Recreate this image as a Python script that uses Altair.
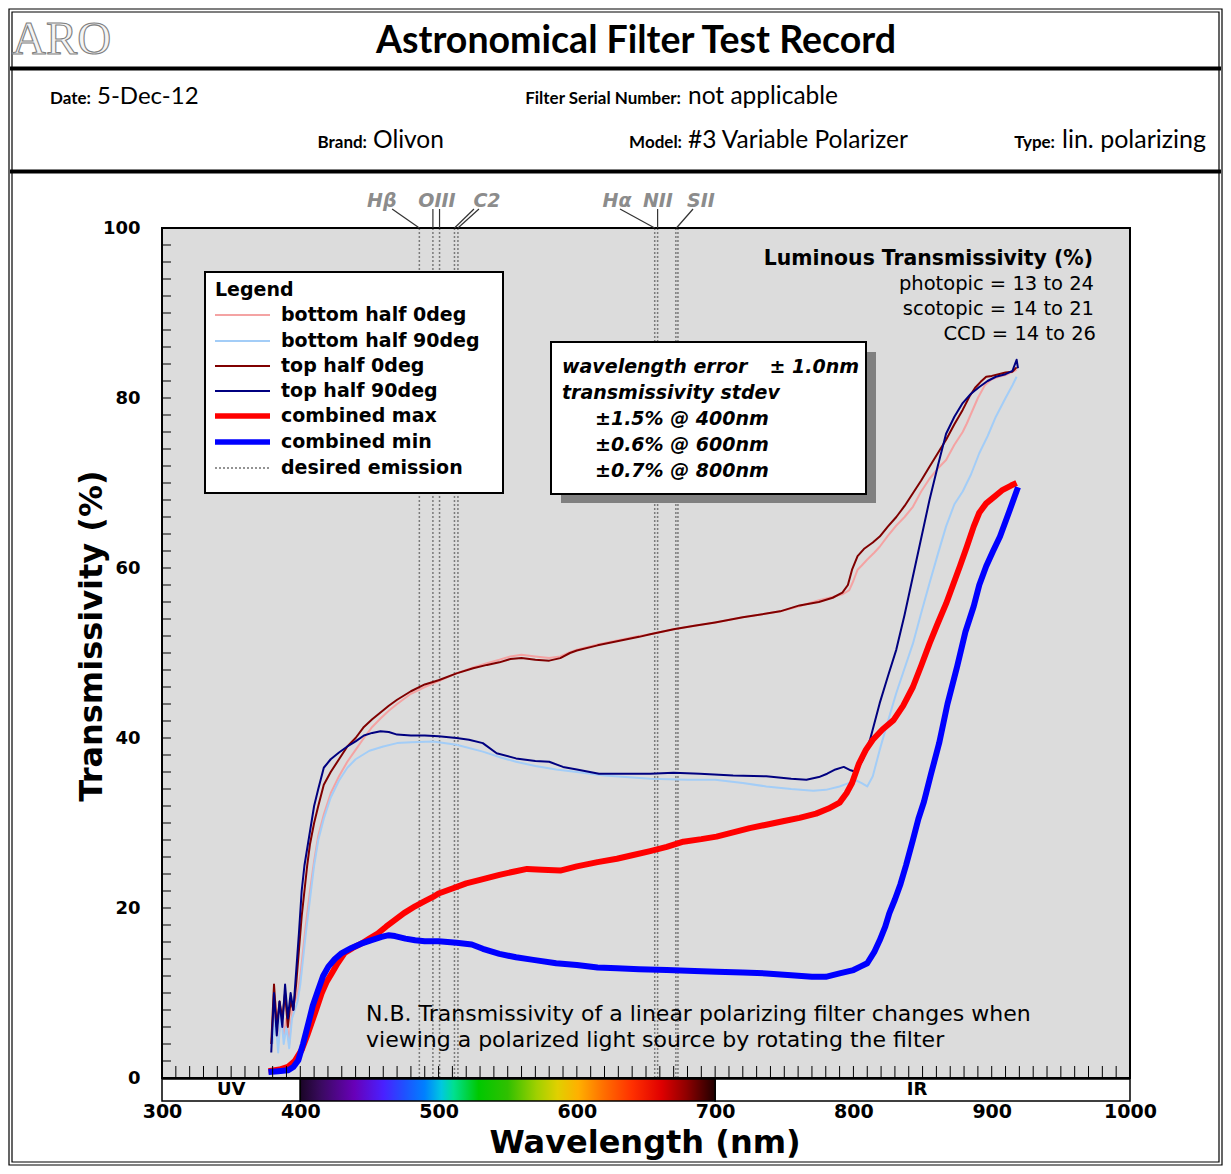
import altair as alt
import pandas as pd

# ---------------- data ----------------
bh0_nm = [380, 382, 384, 386, 388, 390, 392, 394, 396, 398, 400, 402, 404, 407, 410, 413, 417, 422, 428, 434,
          440, 446, 452, 458, 464, 470, 480, 490, 500, 513, 525, 535, 544, 552, 560, 570, 580, 588, 595, 600,
          615, 630, 645, 653, 670, 685, 700, 720, 747, 761, 775, 785, 792, 797, 800, 803, 806, 810, 815, 819,
          825, 831, 837, 843, 849, 855, 861, 867, 873, 879, 882, 886, 890, 895, 900, 905, 910, 918]
bh0_t = [5, 9, 4, 8, 5, 7, 4, 8, 9, 10, 12, 15, 18, 22, 25.5, 28.5, 31, 33.5, 35.5, 37.2,
         38.6, 40, 41.3, 42.3, 43.2, 44, 45.2, 46, 46.7, 47.6, 48.3, 48.8, 49.2, 49.6, 49.8, 49.6, 49.4, 49.6, 50.1, 50.4,
         51, 51.5, 52, 52.2, 52.8, 53.2, 53.6, 54.2, 54.9, 55.5, 56.2, 56.6, 56.9, 57.4, 58.5, 59.8, 60.3, 61, 61.8, 62.5,
         63.8, 65, 66, 67.2, 69, 70.5, 71.7, 72.7, 74.5, 76, 77, 78.5, 80, 81.5, 82.2, 82.5, 82.7, 83.3]

bh90_nm = [380, 382, 384, 386, 388, 390, 392, 394, 396, 398, 400, 402, 404, 407, 410, 413, 417, 422, 428, 434,
           440, 450, 460, 470, 480, 496, 513, 532, 545, 556, 570, 585, 600, 620, 653, 680, 700, 720, 737, 755,
           771, 780, 790, 795, 802, 806, 810, 814, 819, 825, 831, 837, 843, 849, 855, 861, 867, 873, 879, 882,
           885, 891, 897, 903, 910, 915, 918]
bh90_t = [4, 7, 3, 8, 4, 6, 3.5, 7, 8, 9, 11, 14, 17, 21, 25, 28, 30.5, 33, 35, 36.5,
          37.5, 38.5, 39, 39.4, 39.5, 39.6, 39.2, 38.4, 37.7, 37.2, 36.7, 36.3, 36.0, 35.6, 35.2, 35.1, 35.1, 34.7, 34.3, 34.0,
          33.8, 33.9, 34.3, 34.6, 35, 34.7, 34.3, 35.5, 38.6, 42, 45.3, 48.2, 51.1, 54.7, 58.2, 61.6, 64.9, 67.5, 69, 70,
          71, 73.5, 75.5, 77.8, 80, 81.5, 82.5]

th0_nm = [379, 381, 383, 385, 387, 389, 391, 393, 395, 397, 399, 401, 403, 405, 407, 410, 413, 417, 422, 428,
          434, 440, 446, 452, 458, 464, 470, 480, 490, 500, 513, 525, 535, 544, 552, 560, 570, 580, 588, 595,
          600, 615, 630, 645, 653, 670, 685, 700, 720, 747, 761, 775, 785, 792, 796, 799, 803, 808, 814, 819,
          825, 831, 837, 843, 849, 855, 861, 867, 873, 879, 884, 888, 892, 896, 900, 905, 910, 915, 918]
th0_t = [4, 11, 6, 9, 7, 10, 6, 9, 8, 11, 15, 19, 22, 25, 27.5, 30, 32, 34.5, 36, 37.5,
         39, 40, 41.3, 42.2, 43, 43.8, 44.5, 45.5, 46.3, 46.8, 47.6, 48.2, 48.6, 48.9, 49.3, 49.4, 49.2, 49.1, 49.4, 50,
         50.3, 50.9, 51.4, 51.9, 52.2, 52.8, 53.2, 53.6, 54.2, 54.9, 55.6, 56.0, 56.5, 57.1, 58, 59.8, 61.4, 62.3, 63, 63.7,
         64.9, 66, 67.3, 68.8, 70.3, 71.9, 73.5, 75.1, 76.9, 78.6, 80.2, 81.2, 81.9, 82.5, 82.6, 82.8, 83, 83.1, 83.6]

th90_nm = [379, 381, 383, 385, 387, 389, 391, 393, 395, 397, 399, 401, 403, 405, 407, 410, 413, 417, 422, 428,
           434, 440, 446, 452, 458, 464, 470, 480, 490, 500, 513, 522, 532, 542, 556, 570, 580, 590, 600, 616,
           635, 653, 670, 689, 713, 737, 755, 766, 775, 781, 787, 793, 798, 802, 807, 812, 819, 825, 831, 837,
           843, 849, 855, 861, 867, 873, 879, 885, 891, 897, 903, 910, 915, 918, 919]
th90_t = [3, 10, 5, 9, 6, 11, 7, 10, 8, 12.5, 17, 22, 25, 27, 29, 32, 34, 36.5, 37.5, 38.3,
          39, 39.6, 40.3, 40.6, 40.8, 40.7, 40.4, 40.3, 40.3, 40.2, 40.0, 39.8, 39.4, 38.2, 37.6, 37.3, 37.2, 36.6, 36.3, 35.8,
          35.8, 35.8, 35.9, 35.8, 35.6, 35.5, 35.2, 35.1, 35.4, 35.8, 36.3, 36.6, 36.2, 36.0, 37.5, 39.8, 44.1, 47.3, 50.4, 54.5,
          59, 63.5, 68, 72, 75.8, 77.8, 79.4, 80.5, 81.3, 82, 82.5, 82.8, 83.2, 84.5, 83.5]

cmax_nm = [377, 385, 391, 396, 401, 405, 408, 412, 415.5, 419, 422.7, 427, 432, 438, 444, 450, 456, 462, 468.5, 475,
           483, 490, 496, 500, 510, 520, 530, 544, 555, 564, 575, 588, 600, 615, 629, 640, 653, 665, 677, 690,
           701, 713, 725, 737, 749, 761, 773, 782, 790, 795, 799, 804, 809, 814, 821, 829, 836, 843, 849, 855,
           861, 867, 872, 877, 882, 887, 891, 896, 902, 908, 914, 918]
cmax_t = [0.8, 1.0, 1.3, 2.0, 3.3, 5, 6.4, 8.3, 10, 11.3, 12.3, 13.5, 14.7, 15.3, 15.8, 16.4, 17, 17.8, 18.6, 19.4,
          20.2, 20.8, 21.3, 21.7, 22.3, 22.9, 23.3, 23.9, 24.3, 24.6, 24.5, 24.4, 24.9, 25.4, 25.8, 26.2, 26.7, 27.2, 27.8, 28.1,
          28.4, 28.9, 29.4, 29.8, 30.2, 30.6, 31.1, 31.7, 32.4, 33.5, 34.7, 37, 38.6, 39.8, 41, 42.1, 43.8, 46, 48.5, 51.1,
          53.5, 55.8, 58, 60.2, 62.5, 64.9, 66.5, 67.6, 68.4, 69.2, 69.7, 70]

cmin_nm = [377, 384, 391, 395, 398.6, 402, 405.8, 409, 413, 416.5, 420.3, 425, 430, 437, 444, 451, 458.8, 464, 468.5, 476,
           483, 490, 500, 513, 524, 532, 544, 556, 568.5, 585, 600, 615, 629, 645, 665, 685, 701, 720, 737, 755,
           770, 780, 790, 800, 805, 810, 815, 819, 823, 826, 830, 834, 838, 843, 847, 851, 856, 862, 868, 875,
           881, 887, 891, 896, 901, 906, 913, 919]
cmin_t = [0.7, 0.8, 0.9, 1.3, 2.1, 4, 6.4, 8.5, 10.4, 12, 13.1, 14, 14.7, 15.3, 15.8, 16.2, 16.6, 16.8, 16.7, 16.4,
          16.2, 16.1, 16.1, 15.9, 15.7, 15.2, 14.6, 14.2, 13.9, 13.5, 13.3, 13.0, 12.9, 12.8, 12.7, 12.6, 12.5, 12.4, 12.3, 12.1,
          11.9, 11.9, 12.3, 12.7, 13.1, 13.5, 14.8, 16.2, 17.8, 19.4, 21, 22.8, 25, 28, 30.5, 32.5, 35.7, 39.4, 44, 48.4,
          52.5, 55.5, 58, 60.2, 62, 63.7, 66.8, 69.5]

series_names = ["bottom half 0deg", "bottom half 90deg", "top half 0deg", "top half 90deg",
                "combined max", "combined min", "desired emission"]
series_colors = ["#f4a3a3", "#a3cdf7", "#800000", "#000080", "#ff0000", "#0000ff", "#707070"]

emission_nm = [486.1, 495.9, 500.7, 511.5, 514.0, 656.3, 658.4, 671.6, 673.1]
em_labels = ["Hβ", "OIII", "C2", "Hα", "NII", "SII"]
em_label_nm = [459, 498.8, 535, 629, 658.6, 689.7]
leader_top_nm = [466.4, 495.9, 500.7, 525.6, 529.2, 631.2, 658.4, 684.0]
leader_bot_nm = [486.1, 495.9, 500.7, 511.5, 514.0, 656.3, 658.4, 672.0]

x_labels = [300, 400, 500, 600, 700, 800, 900, 1000]
y_grid = [0, 10, 20, 30, 40, 50, 60, 70, 80, 90, 100]
x_minor = list(range(300, 1001, 10))
y_minor = list(range(0, 101, 2))

bar_parts = ["UV", "", "IR"]
bar_start = [300, 400, 700]
bar_end = [400, 700, 1000]
bar_label_nm = [350, 846]

spectrum_offsets = [0.0, 0.05, 0.13, 0.2, 0.25, 0.3, 0.34, 0.37, 0.43, 0.5, 0.57, 0.62, 0.67, 0.73, 0.8, 0.87, 0.93, 1.0]
spectrum_colors = ["#1a0526", "#3a0a60", "#6800b8", "#4a20ff", "#2050ff", "#0080ff", "#00c8e0", "#00e090",
                   "#00c800", "#30c000", "#a0d000", "#e0d000", "#ffb000", "#ff7000", "#ff3000", "#e00000",
                   "#900000", "#200000"]

# ---------------- layout ----------------
W, H = 968, 850
FONT = "DejaVu Sans"
HFONT = "Lato"

x_scale = alt.Scale(domain=[300, 1000], nice=False, zero=False)
y_scale = alt.Scale(domain=[0, 100], nice=False, zero=False)

X_AX = alt.Axis(values=x_labels, format="d", grid=True, gridDash=[2, 2], gridColor="#333333", gridWidth=1,
                gridOpacity=1, ticks=False, domain=False, labelFont=FONT, labelFontWeight="bold", labelFontSize=19,
                labelColor="black", labelPadding=24, labelFlush=False, labelOverlap=False, title=None)
Y_AX = alt.Axis(values=y_grid, grid=True, gridDash=[2, 2], gridColor="#333333", gridWidth=1, gridOpacity=1,
                ticks=False, domain=False, labelFont=FONT, labelFontWeight="bold", labelFontSize=18,
                labelColor="black", labelPadding=22, labelExpr="datum.value % 20 === 0 ? datum.label : ''",
                title=None)


def X(f):
    return alt.X(f, type="quantitative", scale=x_scale, axis=X_AX)


def Y(f):
    return alt.Y(f, type="quantitative", scale=y_scale, axis=Y_AX)


ONE = pd.DataFrame({"k": [0]})


def txt(s, x, y, size, weight="normal", style="normal", align="left", baseline="middle",
        color="black", font=FONT, angle=None, **extra):
    mk = dict(text=s, font=font, fontSize=size, fontWeight=weight, fontStyle=style, align=align,
              baseline=baseline, **extra)
    if "fill" not in extra:
        mk["color"] = color
    if angle is not None:
        mk["angle"] = angle
    return alt.Chart(ONE).mark_text(**mk).encode(x=alt.value(x), y=alt.value(y))


def prect(x1, y1, x2, y2, **mk):
    return alt.Chart(ONE).mark_rect(**mk).encode(x=alt.value(x1), x2=alt.value(x2), y=alt.value(y1), y2=alt.value(y2))


def prule(x1, y1, x2, y2, **mk):
    return alt.Chart(ONE).mark_rule(**mk).encode(x=alt.value(x1), x2=alt.value(x2), y=alt.value(y1), y2=alt.value(y2))


def curve(nm, t, color, width):
    df = pd.DataFrame({"nm": nm, "t": t})
    return alt.Chart(df).mark_line(color=color, strokeWidth=width, strokeJoin="round").encode(
        x=X("nm"), y=Y("t"), order="nm:Q")


layers = []

# plot background
layers.append(prect(0, 0, W, H, fill="#dcdcdc"))

# grid carrier (axes)
layers.append(alt.Chart(pd.DataFrame({"nm": [300, 1000], "t": [0, 100]})).mark_point(opacity=0).encode(
    x=X("nm"), y=Y("t")))

# emission lines
layers.append(alt.Chart(pd.DataFrame({"nm": emission_nm})).mark_rule(
    color="#7a7a7a", strokeDash=[2, 2], strokeWidth=1.5).encode(x=X("nm"), y=alt.value(0), y2=alt.value(H)))

# curves
layers.append(curve(bh0_nm, bh0_t, series_colors[0], 2))
layers.append(curve(bh90_nm, bh90_t, series_colors[1], 2))
layers.append(curve(th0_nm, th0_t, series_colors[2], 2))
layers.append(curve(th90_nm, th90_t, series_colors[3], 2))
layers.append(curve(cmax_nm, cmax_t, series_colors[4], 6))
layers.append(curve(cmin_nm, cmin_t, series_colors[5], 6))

# minor ticks
layers.append(alt.Chart(pd.DataFrame({"nm": x_minor})).mark_rule(color="black", strokeWidth=1).encode(
    x=X("nm"), y=alt.value(H - 12), y2=alt.value(H)))
layers.append(alt.Chart(pd.DataFrame({"t": y_minor})).mark_rule(color="black", strokeWidth=1).encode(
    y=Y("t"), x=alt.value(0), x2=alt.value(9)))

# plot border
layers.append(prect(0, 0, W, H, fillOpacity=0, stroke="black", strokeWidth=2))

# emission labels and leaders
layers.append(alt.Chart(pd.DataFrame({"a": leader_top_nm, "b": leader_bot_nm})).mark_rule(
    color="#333333", strokeWidth=1.2).encode(x=X("a"), x2=alt.X2("b"), y=alt.value(-19), y2=alt.value(0)))
layers.append(alt.Chart(pd.DataFrame({"nm": em_label_nm, "lab": em_labels})).mark_text(
    font=FONT, fontSize=19, fontWeight="bold", fontStyle="italic", color="#8c8c8c", baseline="alphabetic").encode(
    x=X("nm"), y=alt.value(-21), text="lab:N"))

# spectrum bar
bar_df = pd.DataFrame({"a": bar_start, "b": bar_end, "lab": bar_parts})
grad = alt.LinearGradient(gradient="linear",
                          stops=[alt.GradientStop(color=c, offset=o) for o, c in zip(spectrum_offsets, spectrum_colors)],
                          x1=0, x2=1, y1=0, y2=0)
layers.append(alt.Chart(bar_df.iloc[[0, 2]]).mark_rect(fill="white", stroke="black", strokeWidth=1.5).encode(
    x=X("a"), x2=alt.X2("b"), y=alt.value(H + 1), y2=alt.value(H + 23)))
layers.append(alt.Chart(bar_df.iloc[[1]]).mark_rect(fill=grad, stroke="black", strokeWidth=1.5).encode(
    x=X("a"), x2=alt.X2("b"), y=alt.value(H + 1), y2=alt.value(H + 23)))
layers.append(alt.Chart(pd.DataFrame({"nm": bar_label_nm, "lab": [bar_parts[0], bar_parts[2]]})).mark_text(
    font=FONT, fontSize=18, fontWeight="bold", color="black", baseline="middle").encode(
    x=X("nm"), y=alt.value(H + 12), text="lab:N"))

# legend box
layers.append(prect(43, 44, 341, 265, fill="white", stroke="black", strokeWidth=2))
layers.append(txt("Legend", 53, 62, 19, weight="bold"))
row_y = [87, 113, 138, 163, 188, 214, 240]
widths = [1.8, 1.8, 1.8, 1.8, 5.5, 5.5, 1.5]
for i, name in enumerate(series_names):
    extra = {"strokeDash": [2, 2]} if i == 6 else {}
    layers.append(prule(53, row_y[i], 108, row_y[i], color=series_colors[i], strokeWidth=widths[i], **extra))
    layers.append(txt(name, 119, row_y[i], 19, weight="bold"))

# stdev box
layers.append(prect(399, 124, 714, 275, fill="#808080"))
layers.append(prect(389, 114, 704, 266, fill="white", stroke="black", strokeWidth=2))
layers.append(txt("wavelength error", 400, 139, 19, weight="bold", style="italic"))
layers.append(txt("± 1.0nm", 697, 139, 19, weight="bold", style="italic", align="right"))
layers.append(txt("transmissivity stdev", 400, 165, 19, weight="bold", style="italic"))
layers.append(txt("±1.5% @ 400nm", 433, 191, 19, weight="bold", style="italic"))
layers.append(txt("±0.6% @ 600nm", 433, 217, 19, weight="bold", style="italic"))
layers.append(txt("±0.7% @ 800nm", 433, 243, 19, weight="bold", style="italic"))

# luminous transmissivity
layers.append(txt("Luminous Transmissivity (%)", 931, 31, 20.4, weight="bold", align="right"))
layers.append(txt("photopic = 13 to 24", 932, 56, 19.5, align="right"))
layers.append(txt("scotopic = 14 to 21", 932, 81, 19.5, align="right"))
layers.append(txt("CCD = 14 to 26", 934, 106, 19.5, align="right"))

# N.B.
layers.append(txt("N.B. Transmissivity of a linear polarizing filter changes when", 204, 786, 22))
layers.append(txt("viewing a polarized light source by rotating the filter", 204, 812, 22))

# axis titles
layers.append(txt("Transmissivity (%)", -70, 408, 32, weight="bold", align="center", angle=270))
layers.append(txt("Wavelength (nm)", 483, 915, 32, weight="bold", align="center"))

# header
layers.append(prect(-153, -219, 1060, 937, fillOpacity=0, stroke="black", strokeWidth=1.2))
layers.append(prect(-150, -216, 1057, 934, fillOpacity=0, stroke="black", strokeWidth=1.2))
layers.append(prule(-152, -159.5, 1059, -159.5, color="black", strokeWidth=4))
layers.append(prule(-152, -56.5, 1059, -56.5, color="black", strokeWidth=4))
layers.append(txt("ARO", -150, -174, 47, font="Liberation Serif", baseline="alphabetic",
                  fill="#f4f4f4", stroke="#808080", strokeWidth=1.1))
layers.append(txt("Astronomical Filter Test Record", 474, -175, 37.5, weight="bold", font=HFONT,
                  align="center", baseline="alphabetic"))
layers.append(txt("Date:", -71, -124, 17, weight="bold", font=HFONT, align="right", baseline="alphabetic"))
layers.append(txt("5-Dec-12", -65, -124, 24, font=HFONT, baseline="alphabetic"))
layers.append(txt("Filter Serial Number:", 519, -124, 17, weight="bold", font=HFONT, align="right",
                  baseline="alphabetic"))
layers.append(txt("not applicable", 526, -124, 24.5, font=HFONT, baseline="alphabetic"))
layers.append(txt("Brand:", 205, -80, 17, weight="bold", font=HFONT, align="right", baseline="alphabetic"))
layers.append(txt("Olivon", 211, -80, 24.5, font=HFONT, baseline="alphabetic"))
layers.append(txt("Model:", 520, -80, 17, weight="bold", font=HFONT, align="right", baseline="alphabetic"))
layers.append(txt("#3 Variable Polarizer", 526, -80, 24.5, font=HFONT, baseline="alphabetic"))
layers.append(txt("Type:", 893, -80, 17, weight="bold", font=HFONT, align="right", baseline="alphabetic"))
layers.append(txt("lin. polarizing", 900, -80, 25, font=HFONT, baseline="alphabetic"))

chart = alt.layer(*layers).properties(
    width=W, height=H,
    autosize=alt.AutoSizeParams(type="none"),
    padding={"left": 154, "top": 220, "right": 93, "bottom": 88},
    background="white",
).configure_view(stroke=None)

chart.save("out.html", embed_options={"renderer": "svg", "actions": False})
